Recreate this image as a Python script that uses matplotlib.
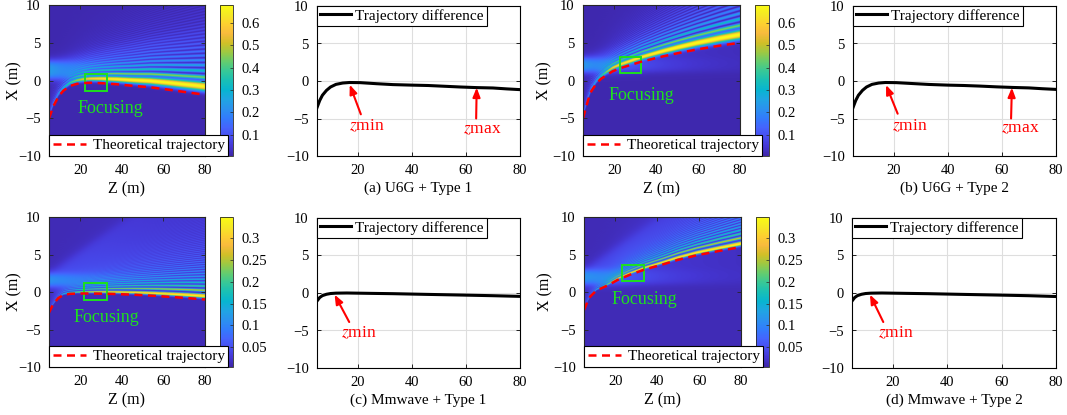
import numpy as np
import matplotlib.pyplot as plt
from matplotlib.colors import LinearSegmentedColormap
from matplotlib.lines import Line2D
from matplotlib.patches import Rectangle
from matplotlib.ticker import FormatStrFormatter

plt.rcParams['font.family'] = ['Liberation Serif', 'DejaVu Serif']
plt.rcParams['mathtext.fontset'] = 'stix'
plt.rcParams['axes.linewidth'] = 0.8

# theoretical trajectories (Z, X) for the four cases
traj_z_a = [5, 7.1, 9.5, 11.9, 15.1, 18.3, 21, 24.7, 30, 37.5, 45, 53.6, 62, 69.6, 75, 80]
traj_x_a = [-5.0, -3.4, -2.14, -1.35, -0.73, -0.45, -0.35, -0.3, -0.35, -0.5, -0.7, -0.9, -1.2, -1.5, -1.7, -1.9]
traj_z_b = [5, 7.4, 9, 11.4, 13.5, 16.2, 19, 22.5, 27, 32.9, 43.3, 50, 59.2, 70, 80]
traj_x_b = [-5.0, -2.6, -1.4, -0.4, 0.2, 0.7, 1.2, 1.6, 2.0, 2.5, 3.2, 3.6, 4.1, 4.6, 5.0]
traj_z_c = [5, 6.5, 8, 9.5, 11.9, 15, 19, 23, 30, 38, 45.5, 55, 65, 72, 80]
traj_x_c = [-2.75, -1.9, -1.3, -0.8, -0.4, -0.25, -0.2, -0.2, -0.22, -0.28, -0.36, -0.5, -0.68, -0.82, -1.0]
traj_z_d = [5, 6.5, 8, 10.9, 16.5, 21, 26.9, 34, 42.9, 50, 58.9, 70, 80]
traj_x_d = [-2.4, -1.4, -0.6, 0.2, 0.9, 1.6, 2.3, 3.0, 3.7, 4.3, 4.9, 5.5, 6.0]

# peak beam power along Z
amp_z = [5, 10, 15, 20, 25, 35, 50, 65, 80]
amp_u6g = [0.14, 0.24, 0.36, 0.46, 0.54, 0.62, 0.67, 0.67, 0.66]
amp_mmw = [0.07, 0.12, 0.18, 0.23, 0.27, 0.3, 0.32, 0.335, 0.345]

# trajectory difference curves
diff_z_ab = [5, 6, 7, 8.5, 10, 12, 14.5, 17, 21, 27, 33, 40, 46, 52, 58, 64, 70, 75, 80]
diff_a = [-3.55, -2.6, -1.9, -1.25, -0.8, -0.45, -0.27, -0.2, -0.22, -0.36, -0.48, -0.55, -0.6, -0.7, -0.8, -0.88, -0.93, -1.05, -1.15]
diff_b = [-3.55, -2.6, -1.9, -1.25, -0.8, -0.45, -0.27, -0.2, -0.22, -0.34, -0.46, -0.55, -0.6, -0.68, -0.78, -0.86, -0.92, -1.03, -1.12]
diff_z_cd = [5, 6, 7, 8.5, 10, 12, 16, 25, 33, 45, 58, 70, 80]
diff_c = [-1.07, -0.6, -0.35, -0.17, -0.07, -0.02, 0.0, -0.05, -0.09, -0.18, -0.27, -0.36, -0.45]
diff_d = [-1.07, -0.6, -0.35, -0.17, -0.07, -0.02, 0.0, -0.05, -0.09, -0.18, -0.27, -0.36, -0.47]

captions = ['(a) U6G + Type 1', '(b) U6G + Type 2', '(c) Mmwave + Type 1', '(d) Mmwave + Type 2']
cbar_ticks_u6g = [0.1, 0.2, 0.3, 0.4, 0.5, 0.6]
cbar_ticks_mmw = [0.05, 0.1, 0.15, 0.2, 0.25, 0.3]

# parula
parula_pts = [
    (0.2422, 0.1504, 0.6603), (0.2706, 0.2147, 0.8364), (0.2813, 0.3006, 0.9414),
    (0.2699, 0.3892, 0.9906), (0.1963, 0.4847, 0.9892), (0.1687, 0.5703, 0.9359),
    (0.1248, 0.6459, 0.8883), (0.0297, 0.7082, 0.8163), (0.0964, 0.7500, 0.7120),
    (0.2161, 0.7843, 0.5923), (0.3909, 0.8029, 0.4354), (0.6174, 0.7876, 0.2612),
    (0.8203, 0.7498, 0.1535), (0.9728, 0.7298, 0.2394), (0.9892, 0.8136, 0.1885),
    (0.9597, 0.9135, 0.1423), (0.9769, 0.9839, 0.0805)]
parula = LinearSegmentedColormap.from_list('parula', parula_pts)


def airy_table():
    # Ai(x) by integrating y'' = x*y downwards from x = 6
    h = -0.002
    x = 6.0
    zeta = 2 / 3 * x ** 1.5
    y = np.exp(-zeta) / (2 * np.sqrt(np.pi) * x ** 0.25)
    dy = -x ** 0.25 * np.exp(-zeta) / (2 * np.sqrt(np.pi))
    xs, ys = [x], [y]
    while x > -80:
        k1y, k1v = dy, x * y
        k2y, k2v = dy + h / 2 * k1v, (x + h / 2) * (y + h / 2 * k1y)
        k3y, k3v = dy + h / 2 * k2v, (x + h / 2) * (y + h / 2 * k2y)
        k4y, k4v = dy + h * k3v, (x + h) * (y + h * k3y)
        y += h / 6 * (k1y + 2 * k2y + 2 * k3y + k4y)
        dy += h / 6 * (k1v + 2 * k2v + 2 * k3v + k4v)
        x += h
        xs.append(x)
        ys.append(y)
    return np.array(xs[::-1]), np.array(ys[::-1])


AI_X, AI_Y = airy_table()


def beam_map(tz, tx, az, av, w80, l80, fringe_gain, fringe_decay, band, band_level, wedge_slope):
    zz = np.linspace(5, 80, 480)
    xx = np.linspace(-10, 10, 420)
    Z, X = np.meshgrid(zz, xx)
    f = np.interp(zz, tz, tx)
    s = np.gradient(f, zz)
    grow = 0.3 + 0.7 * (zz - 5) / 75
    w, L = w80 * grow, l80 * grow
    d = (X - f) / np.sqrt(1 + s ** 2)
    dc = 1.8 * w
    main = np.exp(-((d - dc) / w) ** 2)
    xi = (d - dc) / L + 1.02
    ai = np.interp(-xi, AI_X, AI_Y, left=0, right=0) ** 2 / 0.2873
    ai[xi < 1.02] = 0
    env = np.exp(-np.clip(xi - 1.02, 0, None) / fringe_decay)
    A = np.interp(zz, az, av)
    I = A * np.maximum(main, np.minimum(fringe_gain * ai * env, 0.8))
    # aperture band on the left and its faint spreading wedge
    core = 1 / (1 + np.exp(-(X - band[0]) / 0.25)) / (1 + np.exp((X - band[1]) / 0.25))
    top = band[1] + wedge_slope * (Z - 5)
    wedge = 1 / (1 + np.exp(-(X - band[0]) / 0.3)) / (1 + np.exp((X - top) / 0.4))
    I += band_level * (core * np.exp(-(Z - 5) / 20) + 0.4 * wedge * np.exp(-(Z - 5) / 45))
    return I + 0.012


W, H = 1067, 415
fig = plt.figure(figsize=(W / 100, H / 100), dpi=100)


def rect(l, t, r, b):
    return [l / W, 1 - b / H, (r - l) / W, (b - t) / H]


def style_axes(ax, spine='0.15'):
    ax.tick_params(direction='in', length=3, width=0.6, labelsize=10.5, pad=6,
                   top=True, right=True, colors=spine, labelcolor='black')
    for sp in ax.spines.values():
        sp.set_color(spine)
    ax.set_xticks([20, 40, 60, 80])
    ax.set_yticks([-10, -5, 0, 5, 10])
    ax.set_xlim(5, 80)
    ax.set_ylim(-10, 10)


heat_cases = [
    # heat rect, cbar rect, traj, amp, vmax, ticks, main width, fringe scale, fringe gain, decay,
    # band, band level, wedge slope, focus box, focus text, ylabel x
    ((49, 5, 205, 156), (220, 5, 233, 156), traj_z_a, traj_x_a, amp_u6g, 0.68, cbar_ticks_u6g,
     0.62, 0.55, 1.3, 10, (0.3, 2.5), 0.17, 0.06, (22.3, -1.35, 10.4, 2.2), (34.5, -3.7), -0.173),
    ((583, 5, 740, 156), (755, 5, 769, 156), traj_z_b, traj_x_b, amp_u6g, 0.68, cbar_ticks_u6g,
     0.62, 0.55, 1.3, 10, (1.2, 2.9), 0.17, 0.08, (22.5, 0.95, 10.4, 2.1), (32.7, -2.0), -0.197),
    ((49, 217, 205, 367), (220, 217, 233, 367), traj_z_c, traj_x_c, amp_mmw, 0.348, cbar_ticks_mmw,
     0.24, 0.36, 1.35, 18, (0.8, 2.4), 0.08, 0.2, (22.0, -1.1, 10.7, 2.35), (32.5, -3.4), -0.173),
    ((584, 217, 741, 367), (756, 217, 769, 367), traj_z_d, traj_x_d, amp_mmw, 0.348, cbar_ticks_mmw,
     0.24, 0.36, 1.35, 18, (1.1, 2.9), 0.08, 0.2, (23.2, 1.42, 10.6, 2.2), (34.0, -1.0), -0.197),
]

for (hr, cr, tz, tx, amp, vmax, cticks, w80, l80, gain, decay, band, level, slope, box, txt, ylx) in heat_cases:
    cax = fig.add_axes(rect(*cr))
    ax = fig.add_axes(rect(*hr))
    ax.set_zorder(3)
    I = beam_map(tz, tx, amp_z, amp, w80, l80, gain, decay, band, level, slope)
    im = ax.imshow(I, extent=[5, 80, -10, 10], origin='lower', aspect='auto', cmap=parula,
                   vmin=0.005, vmax=vmax, interpolation='antialiased')
    ax.plot(tz, tx, color='red', lw=1.8, dashes=(3.2, 2.2))
    ax.add_patch(Rectangle(box[:2], box[2], box[3], fill=False, edgecolor='#1ee01e', lw=1.4))
    ax.text(txt[0], txt[1], 'Focusing', color='#1ee01e', fontsize=13, ha='center', va='center')
    style_axes(ax)
    ax.set_xlabel('Z (m)', fontsize=11.5, labelpad=3)
    ax.set_ylabel('X (m)', fontsize=11.5)
    ax.yaxis.set_label_coords(ylx, 0.5)
    leg = ax.legend([Line2D([], [], color='red', lw=1.8, dashes=(3.2, 2.2))], ['Theoretical trajectory'],
                    loc='lower left', bbox_to_anchor=(0, 0), borderaxespad=0, fontsize=11,
                    handlelength=2.2, handletextpad=0.4, borderpad=0.25, fancybox=False,
                    framealpha=1, edgecolor='black')
    leg.get_frame().set_linewidth(0.8)
    cb = fig.colorbar(im, cax=cax, ticks=cticks, format=FormatStrFormatter('%g'))
    cb.outline.set_edgecolor('0.15')
    cb.outline.set_linewidth(0.6)
    cax.tick_params(direction='in', length=2, width=0.5, labelsize=10.5, pad=6, colors='0.15',
                    labelcolor='black')

line_cases = [
    ((317, 6, 520, 156), diff_z_ab, diff_a, captions[0],
     [((17.1, -0.49), (21.2, -4.44), (23.5, -6.0), 'min'), ((64, -0.89), (63.8, -5.0), (66.2, -6.5), 'max')]),
    ((853, 6, 1056, 156), diff_z_ab, diff_b, captions[1],
     [((17.2, -0.53), (21.5, -4.36), (25.9, -5.96), 'min'), ((63.7, -0.89), (63.4, -5.0), (66.8, -6.36), 'max')]),
    ((317, 218, 520, 368), diff_z_cd, diff_c, captions[2],
     [((11.5, -0.22), (16.9, -3.87), (20.6, -5.33), 'min')]),
    ((852, 218, 1056, 368), diff_z_cd, diff_d, captions[3],
     [((11.6, -0.22), (16.5, -3.87), (21.2, -5.3), 'min')]),
]

for (lr, z, dv, cap, arrows) in line_cases:
    ax = fig.add_axes(rect(*lr))
    ax.grid(True, color='0.87', lw=0.8)
    ax.set_axisbelow(True)
    ax.plot(z, dv, color='black', lw=2.2, label='Trajectory difference')
    style_axes(ax, spine='black')
    ax.set_xlabel(cap, fontsize=11, labelpad=3)
    for tip, tail, tpos, sub in arrows:
        ax.annotate('', xy=tip, xytext=tail,
                    arrowprops=dict(arrowstyle='-|>,head_length=0.55,head_width=0.22',
                                    color='red', lw=1.5, shrinkA=0, shrinkB=0))
        ax.text(tpos[0], tpos[1], '$z$' + sub, color='red', fontsize=12.5, ha='center', va='center')
    leg = ax.legend(loc='upper left', bbox_to_anchor=(0, 1), borderaxespad=0, fontsize=11,
                    handlelength=2.0, handletextpad=0.3, borderpad=0.2, fancybox=False,
                    framealpha=1, edgecolor='black')
    leg.get_frame().set_linewidth(0.8)

fig.savefig('out.png', dpi=100, facecolor='white')
